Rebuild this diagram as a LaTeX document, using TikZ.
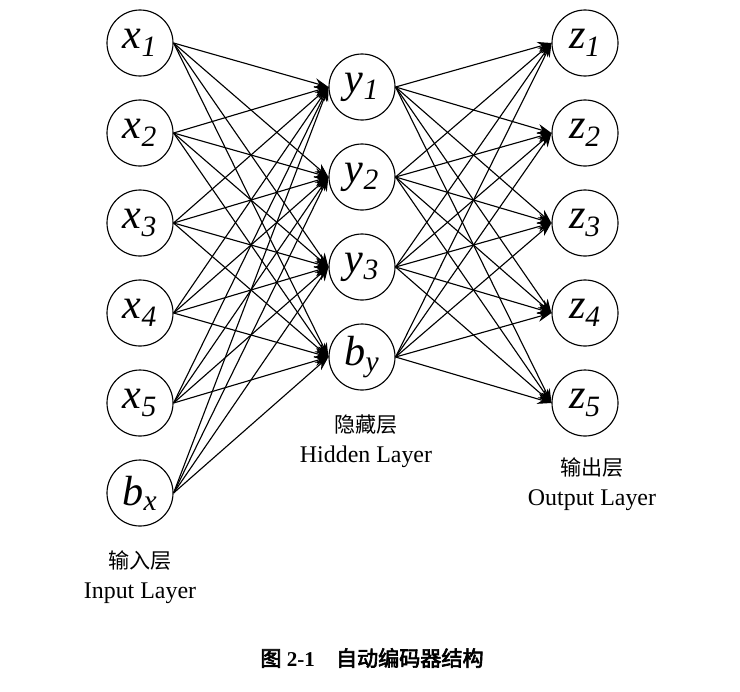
\documentclass[tikz,border=0pt]{standalone}
\usepackage{fontspec}
\newfontfamily\cjk{Noto Sans CJK SC}[AutoFakeBold=3]
\setmainfont{Liberation Serif}
\usetikzlibrary{arrows.meta}
\newcommand{\nv}[2]{\textit{#1}\textsubscript{\textit{#2}}}

\begin{document}
\begin{tikzpicture}
    [
    x=0.025cm,y=-0.025cm,
    neuron/.style={circle,draw,line width=0.8pt,minimum size=1.65cm,inner sep=0pt,font=\fontsize{30}{32}\selectfont},
    link/.style={-{Stealth[length=3.5mm,width=2.5mm]},line width=0.8pt},
    lbl/.style={font=\fontsize{17}{19}\selectfont,align=center},
    ]
    \useasboundingbox (0,0) rectangle (740,691);
    \foreach \i/\yy in {1/43,2/133,3/223,4/313,5/403}
        \node (x\i) at (140,\yy) [neuron] {\nv{x}{\i}};
    \node (x6) at (140,493) [neuron] {\nv{b}{x}};
    \foreach \j/\yy in {1/87,2/177,3/267}
        \node (y\j) at (362,\yy) [neuron] {\nv{y}{\j}};
    \node (y4) at (362,357) [neuron] {\nv{b}{y}};
    \foreach \k/\yy in {1/43,2/133,3/223,4/313,5/403}
        \node (z\k) at (585,\yy) [neuron] {\nv{z}{\k}};

    \foreach \i in {1,...,6}
        \foreach \j in {1,...,4}
            \draw [link] (x\i.east) -- (y\j.west);
    \foreach \j in {1,...,4}
        \foreach \k in {1,...,5}
            \draw [link] (y\j.east) -- (z\k.west);

    \node (inlbl) at (140,577) [lbl] {{\cjk\fontsize{15}{17}\selectfont 输入层}\\[2pt]Input Layer};
    \node (hidlbl) at (366,441) [lbl] {{\cjk\fontsize{15}{17}\selectfont 隐藏层}\\[2pt]Hidden Layer};
    \node (outlbl) at (592,484) [lbl] {{\cjk\fontsize{15}{17}\selectfont 输出层}\\[2pt]Output Layer};
    \node (cap) at (372,658) [font=\fontsize{15}{17}\selectfont\bfseries] {{\cjk\bfseries 图}\ 2-1\quad{\cjk\bfseries 自动编码器结构}};
\end{tikzpicture}
\end{document}
